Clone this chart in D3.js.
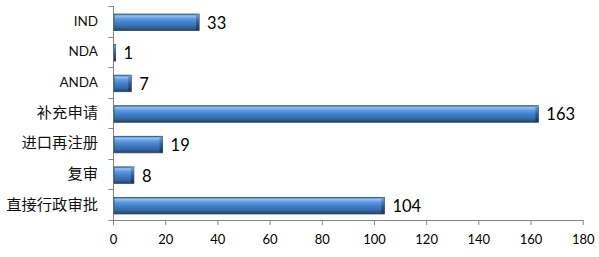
<!DOCTYPE html>
<html><head><meta charset="utf-8">
<script src="https://cdn.jsdelivr.net/npm/d3@7"></script>
<style>body{margin:0;background:#fff}svg{display:block}</style>
</head><body>
<svg id="c" width="599" height="257"></svg>
<script>
const categories = ["IND","NDA","ANDA","补充申请","进口再注册","复审","直接行政审批"];
const values = [33,1,7,163,19,8,104];
const xTicks = [0,20,40,60,80,100,120,140,160,180];

const svg = d3.select("#c");
const font = "Lato, 'Noto Sans CJK SC', sans-serif";
const mLeft = 113, mRight = 582.7, mTop = 6, mBottom = 220;
const x = d3.scaleLinear().domain([0,180]).range([mLeft,mRight]);
const y = d3.scaleBand().domain(categories).range([mTop,mBottom]).paddingInner(0.46).paddingOuter(0.23);

const defs = svg.append("defs");
const g = defs.append("linearGradient").attr("id","bg").attr("x1",0).attr("y1",0).attr("x2",0).attr("y2",1);
[[0,"#4a86d0"],[0.12,"#95c0f0"],[0.28,"#5d9ae0"],[0.55,"#3f7cc8"],[0.8,"#34679f"],[1,"#243f63"]]
  .forEach(([o,c])=>g.append("stop").attr("offset",o).attr("stop-color",c));
const ge = defs.append("linearGradient").attr("id","eg").attr("x1",0).attr("y1",0).attr("x2",0).attr("y2",1);
[[0,"#6e9fd6"],[0.5,"#2f5e96"],[1,"#1c3352"]].forEach(([o,c])=>ge.append("stop").attr("offset",o).attr("stop-color",c));

// axes
const xAxis = svg.append("g").attr("transform",`translate(0,${mBottom})`)
  .call(d3.axisBottom(x).tickValues(xTicks).tickSize(5).tickSizeOuter(0));
xAxis.select(".domain").attr("stroke","#868686");
xAxis.selectAll(".tick line").attr("stroke","#868686");
xAxis.selectAll("text").attr("font-family",font).attr("font-size",13).attr("fill","#000").attr("dy","1.25em");

const yAxis = svg.append("g").attr("transform",`translate(${mLeft},0)`)
  .call(d3.axisLeft(y).tickSize(0).tickPadding(15));
yAxis.select(".domain").attr("stroke","#868686").attr("d",`M0.5,${mTop}V${mBottom}`);
yAxis.selectAll("text").attr("font-family",font)
  .attr("font-size",d=>/^[\x00-\x7f]+$/.test(d)?13.5:15.3).attr("fill","#111");
// y tick marks between categories
const bounds = d3.range(categories.length+1).map(i=>mTop + i*(mBottom-mTop)/categories.length);
svg.append("g").selectAll("line").data(bounds).join("line")
  .attr("x1",mLeft-4.5).attr("x2",mLeft).attr("y1",d=>Math.round(d)+0.5).attr("y2",d=>Math.round(d)+0.5)
  .attr("stroke","#868686");

// bars
const bars = svg.append("g").selectAll("g").data(categories).join("g");
bars.append("rect")
  .attr("x",mLeft+1).attr("y",d=>y(d)+1).attr("height",y.bandwidth())
  .attr("width",(d,i)=>Math.max(0,x(values[i])-mLeft-1))
  .attr("fill","url(#bg)").attr("stroke","#2a4a72").attr("stroke-width",0.8);
bars.append("rect")
  .attr("x",(d,i)=>Math.max(mLeft+1,x(values[i])-3)).attr("y",d=>y(d)+1.4).attr("height",y.bandwidth()-0.8)
  .attr("width",(d,i)=>Math.min(3,x(values[i])-mLeft-1))
  .attr("fill","url(#eg)");
bars.append("text")
  .attr("x",(d,i)=>x(values[i])+8).attr("y",d=>y(d)+1.5+y.bandwidth()/2).attr("dy","0.36em")
  .attr("font-family",font).attr("font-size",16.5).attr("fill","#000")
  .text((d,i)=>values[i]);
</script>
</body></html>
